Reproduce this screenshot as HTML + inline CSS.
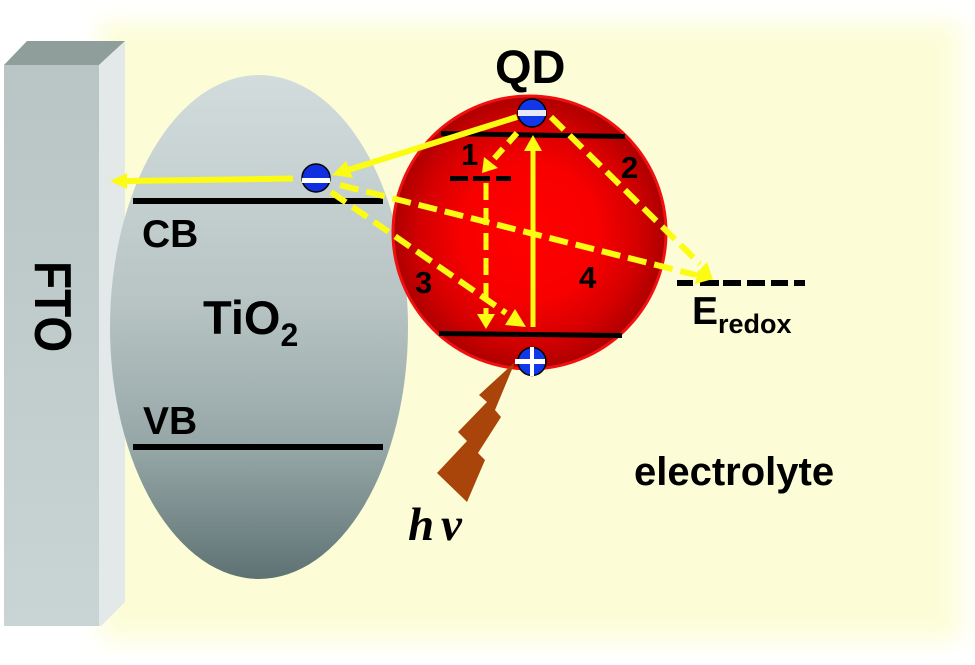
<!DOCTYPE html>
<html><head><meta charset="utf-8">
<style>html,body{margin:0;padding:0;background:#fff}svg{display:block}
text{font-family:"Liberation Sans",sans-serif;font-weight:bold;fill:#000}</style></head>
<body>
<svg width="975" height="665" viewBox="0 0 975 665" xmlns="http://www.w3.org/2000/svg">
<defs>
<filter id="blur" x="-10%" y="-10%" width="120%" height="120%"><feGaussianBlur stdDeviation="12"/></filter>
<linearGradient id="tio" x1="0" y1="0" x2="0" y2="1">
<stop offset="0" stop-color="#d2dcdc"/><stop offset="0.45" stop-color="#b8c4c4"/><stop offset="0.75" stop-color="#94a5a5"/><stop offset="1" stop-color="#5f7273"/>
</linearGradient>
<linearGradient id="fto" x1="0" y1="0" x2="0" y2="1">
<stop offset="0" stop-color="#b8c5c4"/><stop offset="1" stop-color="#c9d4d4"/>
</linearGradient>
<radialGradient id="qd" cx="0.5" cy="0.5" r="0.5">
<stop offset="0" stop-color="#ff0000"/><stop offset="0.5" stop-color="#f80000"/><stop offset="0.8" stop-color="#d40000"/><stop offset="1" stop-color="#ad0000"/>
</radialGradient>
</defs>
<rect width="975" height="665" fill="#fff"/>
<rect x="100" y="22" width="860" height="618" fill="#fcfdd7" filter="url(#blur)"/>

<!-- FTO -->
<polygon points="4,65 27,41 125,41 99,65" fill="#8f9e9b"/>
<rect x="4" y="65" width="95" height="561" fill="url(#fto)"/>
<polygon points="99,65 125,41 125,602 101,626 99,626" fill="#e3e8e8"/>
<text transform="translate(35,261) rotate(90) scale(1,1.12)" font-size="46">FTO</text>

<!-- TiO2 -->
<ellipse cx="259" cy="327" rx="149" ry="252" fill="url(#tio)"/>

<!-- QD -->
<circle cx="529.500" cy="232.500" r="136.500" fill="url(#qd)" stroke="#f01010" stroke-width="3"/>

<!-- levels -->
<rect x="133" y="198" width="250" height="6" fill="#000"/>
<rect x="133" y="444" width="250" height="6" fill="#000"/>
<polygon points="441,131 625,134 625,139 441,136" fill="#000"/>
<polygon points="439,331 622,333 622,338 439,336" fill="#000"/>
<g fill="#000">
<rect x="450" y="176" width="18" height="5"/><rect x="473" y="176" width="17" height="5"/><rect x="496" y="176" width="15" height="5"/>
<rect x="677" y="280" width="16" height="6"/><rect x="700" y="280" width="19" height="6"/><rect x="723" y="280" width="18" height="6"/><rect x="747" y="280" width="18" height="6"/><rect x="771" y="280" width="17" height="6"/><rect x="794" y="280" width="11" height="6"/>
</g>

<!-- solid yellow arrows -->
<g stroke="#fbfb14" fill="none">
<line x1="517" y1="117" x2="348" y2="170" stroke-width="6"/>
<line x1="293" y1="178.500" x2="125" y2="181" stroke-width="6"/>
<line x1="533" y1="327" x2="533" y2="150" stroke-width="5"/>
</g>
<g fill="#fbfb14">
<polygon points="332,175 346,161 353,178"/>
<polygon points="110,181 127,173 127,189"/>
<polygon points="533,135 542,151 524,151"/>
</g>

<!-- dashed yellow -->
<g stroke="#fbfb14" stroke-width="6" fill="none">
<line x1="517" y1="133" x2="492" y2="161" stroke-dasharray="13 8"/>
<line x1="551" y1="117" x2="700" y2="264" stroke-dasharray="18 8"/>
<line x1="331" y1="192" x2="506" y2="313" stroke-dasharray="18 8"/>
<line x1="340" y1="185" x2="696" y2="275" stroke-dasharray="19 8"/>
</g>
<line x1="486" y1="183" x2="486" y2="316" stroke="#fbfb14" stroke-width="5" stroke-dasharray="17 8"/>
<g fill="#fbfb14">
<polygon points="482,173 484,157 498,168"/>
<polygon points="486,329 477,314 495,314"/>
<polygon points="526,327 515,309 505,325"/>
<polygon points="713,280 707,262 694,276"/>
<polygon points="713,279 695,284 698,270"/>
</g>

<!-- lightning -->
<polygon points="515,362 479,395 487,402 458,432 467,441 437,473 467,502 485,460 478,453 501,417 495,410" fill="#a9450a"/>

<!-- electrons -->
<g>
<circle cx="316" cy="178" r="14" fill="#1030e0" stroke="#000" stroke-width="1.500"/>
<rect x="302" y="178" width="28" height="5" fill="#fff"/>
<circle cx="532" cy="113" r="14" fill="#1038e8" stroke="#000" stroke-width="1.500"/>
<rect x="518" y="110" width="28" height="6" fill="#e8e8f8"/>
<circle cx="532" cy="361.500" r="14" fill="#1038e8" stroke="#000" stroke-width="1.500"/>
<rect x="515" y="359" width="30" height="5" fill="#fff"/>
<rect x="530" y="347" width="4" height="29" fill="#fff"/>
</g>

<!-- labels -->
<text x="495" y="83" font-size="47">QD</text>
<text x="142" y="247" font-size="39">CB</text>
<text x="143" y="434" font-size="39">VB</text>
<text x="203" y="334" font-size="47">TiO<tspan font-size="32" dy="12">2</tspan></text>
<text x="461" y="165" font-size="31">1</text>
<text x="621" y="178" font-size="31">2</text>
<text x="415" y="293" font-size="31">3</text>
<text x="579" y="288" font-size="31">4</text>
<text x="692" y="324" font-size="39">E<tspan font-size="27" dy="9">redox</tspan></text>
<text x="634" y="485" font-size="40">electrolyte</text>
<text x="408" y="540" font-size="47" font-style="italic" style="font-family:'Liberation Serif',serif">h</text>
<text x="441" y="540" font-size="47" font-style="italic" style="font-family:'Liberation Serif',serif">ν</text>
</svg>
</body></html>
